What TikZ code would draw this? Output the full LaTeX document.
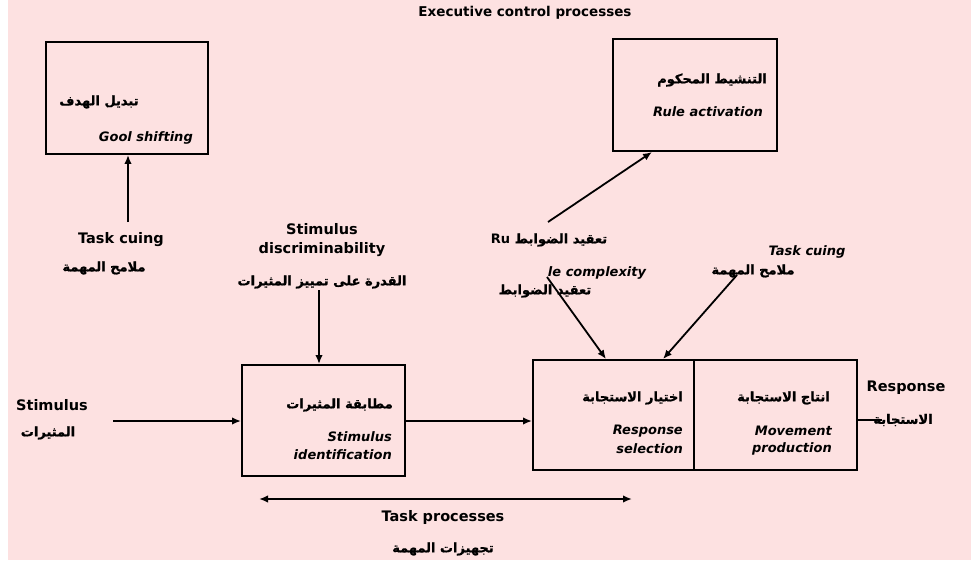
\documentclass[tikz,border=0pt]{standalone}
\usepackage{fontspec}
\setmainfont{DejaVu Sans}
\newfontfamily\arabicfont[Script=Arabic,FakeBold=1]{DejaVu Sans Bold}
\TeXXeTstate=1
\usetikzlibrary{arrows.meta}
\definecolor{paper}{RGB}{253,225,225}
\newcommand{\artext}[1]{{\arabicfont\beginR #1\endR}}

\begin{document}
\begin{tikzpicture}[x=1pt,y=-1pt,
  box/.style={draw, line width=1.9pt, inner sep=0},
  lbl/.style={font=\bfseries\fontsize{14.5}{16}\selectfont, inner sep=0},
  ital/.style={font=\bfseries\itshape\fontsize{13}{15}\selectfont, inner sep=0},
  arb/.style={font=\fontsize{13}{15}\selectfont, inner sep=0},
  flow/.style={line width=1.8pt, -{Latex[length=9pt,width=7.5pt]}},
  plain/.style={line width=1.8pt},
]
\useasboundingbox (0,0) rectangle (971,563);
\fill[paper] (8,0) rectangle (971,560);

% heading
\node[lbl, font=\bfseries\fontsize{13.5}{15}\selectfont] (title) at (525,13) {Executive control processes};

% goal shifting
\node[box, minimum width=162pt, minimum height=112pt] (goal) at (127,98) {};
\node[arb] (goalar) at (99,102) {\artext{تبديل الهدف}};
\node[ital, anchor=east] (goalen) at (193,138) {Gool shifting};
\node[lbl] (cue1) at (121,240) {Task cuing};
\node[arb] (cue1ar) at (104,268) {\artext{ملامح المهمة}};
\coordinate (cue1top) at (128,222);
\draw[flow] (cue1top) -- (goal.south -| cue1top);

% rule activation
\node[box, minimum width=164pt, minimum height=112pt] (rule) at (695,95) {};
\node[arb, anchor=east] (rulear) at (767,80) {\artext{التنشيط المحكوم}};
\node[ital, anchor=east] (ruleen) at (763,112) {Rule activation};
\node[arb] (ru) at (549,240) {\artext{تعقيد الضوابط \beginL{\bfseries\fontsize{13}{15}\selectfont\rmfamily Ru}\endL}};
\coordinate (rufrom) at (548,222);
\coordinate (ruto) at (652,152);
\draw[flow] (rufrom) -- (ruto);

% stimulus discriminability
\node[lbl] (disc1) at (322,229) {Stimulus};
\node[lbl] (disc2) at (322,250) {discriminability};
\node[arb] (discar) at (322,282) {\artext{القدرة على تمييز المثيرات}};
\coordinate (discfrom) at (319,290);

% stimulus identification
\node[box, minimum width=163pt, minimum height=111pt] (sid) at (323.5,420.5) {};
\node[arb, anchor=east] (sidar) at (393,405) {\artext{مطابقة المثيرات}};
\node[ital, anchor=east] (siden1) at (392,437) {Stimulus};
\node[ital, anchor=east] (siden2) at (392,455) {identification};
\draw[flow] (discfrom) -- (discfrom |- sid.north);

% stimulus input
\node[lbl] (stim) at (52,405) {Stimulus};
\node[arb] (stimar) at (48,433) {\artext{المثيرات}};
\coordinate (stimfrom) at (113,421);
\draw[flow] (stimfrom) -- (stimfrom -| sid.west);

% response selection / movement production
\node[box, minimum width=161pt, minimum height=110pt] (sel) at (613.5,415) {};
\node[box, minimum width=163pt, minimum height=110pt] (mov) at (775.5,415) {};
\node[arb, anchor=east] (selar) at (683,398) {\artext{اختيار الاستجابة}};
\node[ital, anchor=east] (selen1) at (683,431) {Response};
\node[ital, anchor=east] (selen2) at (683,449) {selection};
\node[arb, anchor=east] (movar) at (830,398) {\artext{انتاج الاستجابة}};
\node[ital, anchor=east] (moven1) at (832,431) {Movement};
\node[ital, anchor=east] (moven2) at (832,449) {production};
\draw[flow] (sid.east |- stimfrom) -- (sel.west |- stimfrom);

% rule complexity and task cuing into selection
\node[ital] (cplx) at (597,273) {le complexity};
\node[arb] (cplxar) at (545,291) {\artext{تعقيد الضوابط}};
\coordinate (cplxfrom) at (547,277);
\draw[flow] (cplxfrom) -- (606,0 |- sel.north);
\node[ital] (cue2) at (807,252) {Task cuing};
\node[arb] (cue2ar) at (753,271) {\artext{ملامح المهمة}};
\coordinate (cue2from) at (737,275);
\draw[flow] (cue2from) -- (663,0 |- sel.north);

% response output
\node[lbl] (resp) at (906,388) {Response};
\node[arb] (respar) at (903,420) {\artext{الاستجابة}};
\coordinate (respto) at (882,420);
\draw[plain] (mov.east |- respto) -- (respto);

% task processes span
\coordinate (spanl) at (259,499);
\coordinate (spanr) at (632,499);
\draw[line width=1.8pt, {Latex[length=9pt,width=7.5pt]}-{Latex[length=9pt,width=7.5pt]}] (spanl) -- (spanr);
\node[lbl] (tp) at (443,517) {Task processes};
\node[arb] (tpar) at (443,549) {\artext{تجهيزات المهمة}};
\end{tikzpicture}
\end{document}
